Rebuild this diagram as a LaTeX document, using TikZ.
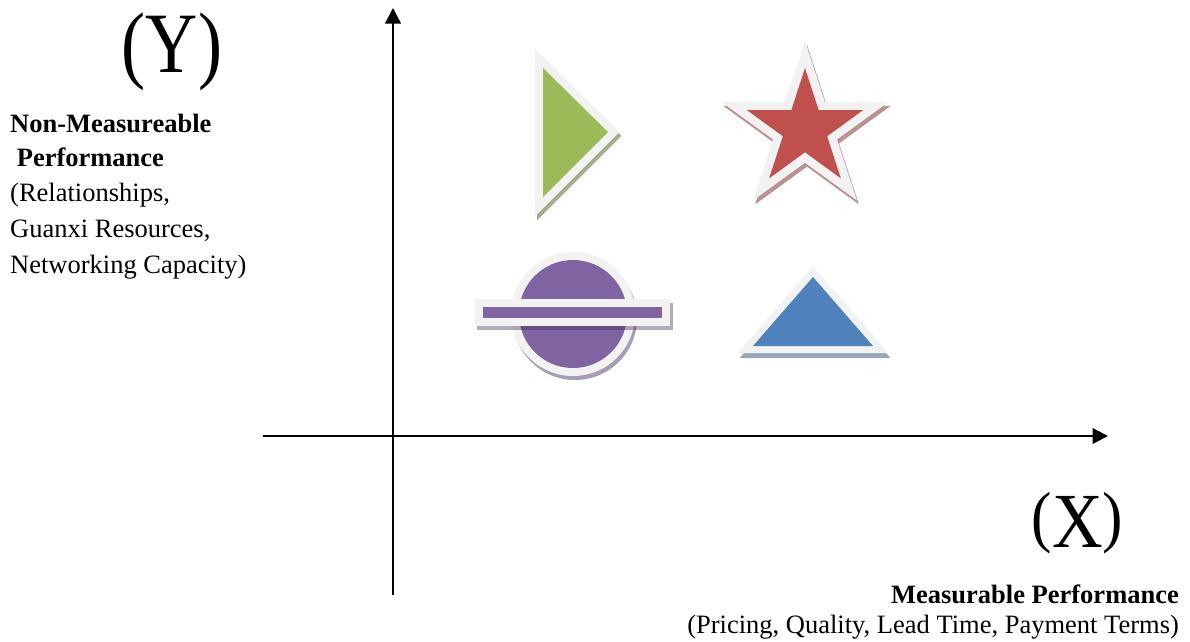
\documentclass[tikz,border=0pt]{standalone}
\usepackage{fontspec}
\setmainfont{Liberation Serif}
\usetikzlibrary{arrows.meta}
\definecolor{lightb}{HTML}{F2F2F2}
\definecolor{cgreen}{HTML}{9BBB59}
\definecolor{cred}{HTML}{C0504D}
\definecolor{cblue}{HTML}{4F81BD}
\definecolor{cpurple}{HTML}{8064A2}
\definecolor{sgreen}{HTML}{A3AE8C}
\definecolor{sred}{HTML}{B99393}
\definecolor{sblue}{HTML}{97A6B9}
\definecolor{spurple}{HTML}{A79DB4}
\definecolor{sdark}{HTML}{3F2F55}
\tikzset{
  axis/.style={line width=2.4pt, -{Triangle[length=15.5pt, width=15.5pt]}},
  lbl/.style={inner sep=0pt, font=\fontsize{26.5}{32}\selectfont},
  biglbl/.style={inner sep=0pt, anchor=base},
  rim/.style={draw=#1, fill=#1, line join=miter, miter limit=20},
}
\begin{document}
\begin{tikzpicture}[x=1pt, y=-1pt]
\useasboundingbox (0,0) rectangle (1190,641);
% axes
\coordinate (ybot) at (393,595);
\coordinate (ytop) at (393,8);
\coordinate (xleft) at (263,436);
\coordinate (xright) at (1108,436);
\draw[axis] (ybot) -- (ytop);
\draw[axis] (xleft) -- (xright);
% axis titles
\node[biglbl, font=\fontsize{86}{90}\selectfont, xscale=0.84] (ylab) at (172,72) {(Y)};
\node[biglbl, font=\fontsize{78}{82}\selectfont, xscale=0.9] (xlab) at (1077.5,547) {\raisebox{8pt}{\fontsize{68}{72}\selectfont(}X\raisebox{8pt}{\fontsize{68}{72}\selectfont)}};
% left texts
\node[lbl, font=\fontsize{26.5}{32}\selectfont\bfseries, anchor=base west] (t1) at (10,132) {Non-Measureable};
\node[lbl, font=\fontsize{26.5}{32}\selectfont\bfseries, anchor=base west] (t2) at (10,166.7) {\ Performance};
\node[lbl, anchor=base west] (t3) at (10,201.7) {(Relationships,};
\node[lbl, anchor=base west] (t4) at (10,237.5) {Guanxi Resources,};
\node[lbl, anchor=base west] (t5) at (10,273) {Networking Capacity)};
% bottom texts
\node[lbl, font=\fontsize{26.5}{32}\selectfont\bfseries, anchor=base east] (b1) at (1179,603) {Measurable Performance};
\node[lbl, anchor=base east] (b2) at (1179,633) {(Pricing, Quality, Lead Time, Payment Terms)};
% green triangle
\begin{scope}[shift={(2,4)}]
  \path[rim=sgreen, line width=16pt] (543,68) -- (543,197) -- (608,132) -- cycle;
\end{scope}
\path[rim=lightb, line width=16pt] (543,68) -- (543,197) -- (608,132) -- cycle;
\fill[cgreen] (543,68) -- (543,197) -- (608,132) -- cycle;
% red star
\begin{scope}[shift={(807,133)}, yscale=-1]
  \path[rim=sred, line width=16.8pt] (90:61) -- (126:23.3) -- (162:61) -- (198:23.3) -- (234:61) -- (270:23.3) -- (306:61) -- (342:23.3) -- (18:61) -- (54:23.3) -- cycle;
\end{scope}
\begin{scope}[shift={(805,129)}, yscale=-1]
  \path[rim=lightb, line width=16.8pt] (90:61) -- (126:23.3) -- (162:61) -- (198:23.3) -- (234:61) -- (270:23.3) -- (306:61) -- (342:23.3) -- (18:61) -- (54:23.3) -- cycle;
  \fill[cred] (90:61) -- (126:23.3) -- (162:61) -- (198:23.3) -- (234:61) -- (270:23.3) -- (306:61) -- (342:23.3) -- (18:61) -- (54:23.3) -- cycle;
\end{scope}
% blue triangle
\begin{scope}[shift={(2,5)}]
  \path[rim=sblue, line width=14pt] (813,277) -- (753,346) -- (873,346) -- cycle;
\end{scope}
\path[rim=lightb, line width=14pt] (813,277) -- (753,346) -- (873,346) -- cycle;
\fill[cblue] (813,277) -- (753,346) -- (873,346) -- cycle;
% purple planet
\fill[spurple] (575,318) circle[radius=62];
\fill[lightb] (573,314) circle[radius=62];
\fill[cpurple] (573,314) circle[radius=54];
\fill[sdark, opacity=0.4] (477,302.5) rectangle (673,330);
\fill[lightb] (475,298.5) rectangle (670,325.5);
\fill[cpurple] (483,307) rectangle (662,318);
\end{tikzpicture}
\end{document}
